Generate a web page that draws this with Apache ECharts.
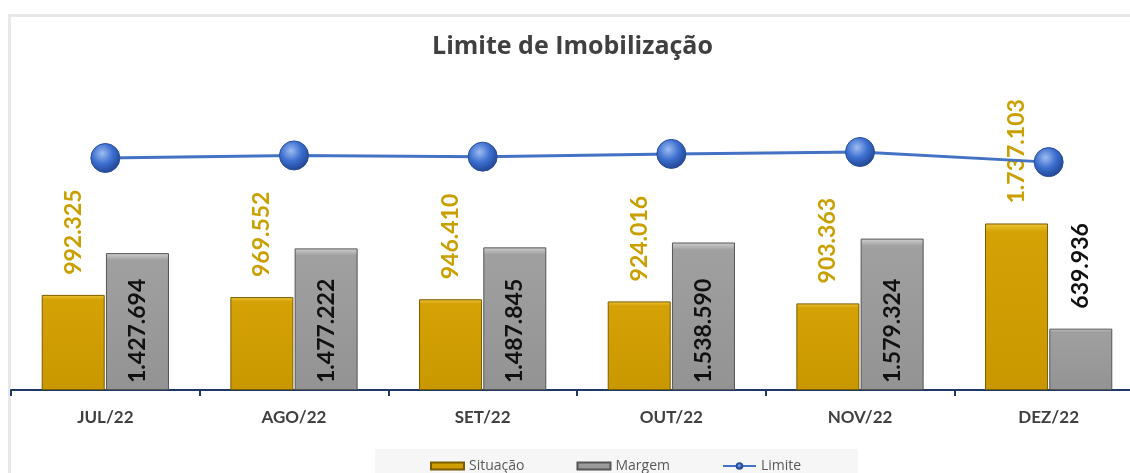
<!DOCTYPE html>
<html>
<head>
<meta charset="utf-8">
<script src="https://cdn.jsdelivr.net/npm/echarts@6/dist/echarts.min.js"></script>
<style>
  html, body { margin: 0; padding: 0; background: #fff; overflow: hidden; }
  #char { width: 1145px; height: 473px; }
</style>
</head>
<body>
<div id="char"></div>
<script>
var meses = ['JUL/22', 'AGO/22', 'SET/22', 'OUT/22', 'NOV/22', 'DEZ/22'];
var situacao = [992325, 969552, 946410, 924016, 903363, 1737103];
var margem = [1427694, 1477222, 1487845, 1538590, 1579324, 639936];
var limite = [2420019, 2446774, 2434255, 2462606, 2482687, 2377039];

function fmt(v) {
  // separador de milhar com ponto
  return String(v).replace(/\B(?=(\d{3})+(?!\d))/g, '.');
}

var fonte = 'Lato, "DejaVu Sans", sans-serif';

var margemData = margem.map(function (v, i) {
  // barra curta: rótulo fica por cima
  if (v < 800000) {
    return { value: v, label: { position: 'top', distance: 20, color: '#111' } };
  }
  return v;
});

var myChart = echarts.init(document.getElementById('char'));
var option = {
  backgroundColor: '#fff',
  animation: false,
  title: {
    text: 'Limite de Imobilização',
    left: 'center',
    top: 29,
    textStyle: { fontFamily: '"Open Sans", sans-serif', fontSize: 25, fontWeight: 'bold', color: '#404040' }
  },
  graphic: [
    { type: 'rect', shape: { x: 8, y: 14, width: 1140, height: 3 }, style: { fill: '#e8e8e8' }, silent: true },
    { type: 'rect', shape: { x: 8, y: 14, width: 3, height: 459 }, style: { fill: '#e8e8e8' }, silent: true },
    { type: 'rect', shape: { x: 375, y: 449, width: 483, height: 24 }, style: { fill: '#f6f6f6' }, silent: true, z: -1 }
  ],
  legend: {
    top: 454,
    left: 425,
    itemGap: 52,
    itemWidth: 33,
    itemHeight: 7,
    textStyle: { fontFamily: '"Open Sans", sans-serif', fontSize: 14, color: '#595959' },
    data: [
      { name: 'Situação', icon: 'rect' },
      { name: 'Margem', icon: 'rect' },
      { name: 'Limite' }
    ]
  },
  grid: { left: 11, top: 70, right: 2, height: 320 },
  xAxis: {
    type: 'category',
    data: meses,
    axisLine: { lineStyle: { color: '#1f3864', width: 2 } },
    axisTick: { show: true, length: 6, lineStyle: { color: '#1f3864', width: 2 } },
    axisLabel: { fontFamily: fonte, fontSize: 17, fontWeight: 'bold', color: '#404040', margin: 19 }
  },
  yAxis: {
    type: 'value',
    min: 0,
    max: 3338000,
    show: false,
    splitLine: { show: false }
  },
  series: [
    {
      name: 'Situação',
      type: 'bar',
      barWidth: 63,
      barGap: '2%',
      data: situacao,
      itemStyle: {
        color: new echarts.graphic.LinearGradient(0, 0, 0, 1, [
          { offset: 0, color: '#edc53a' },
          { offset: 0.05, color: '#d4a205' },
          { offset: 1, color: '#c99800' }
        ]),
        borderColor: '#7a5c00',
        borderWidth: 1
      },
      label: {
        show: true,
        position: 'top',
        distance: 20,
        rotate: 90,
        align: 'left',
        verticalAlign: 'middle',
        fontFamily: fonte,
        fontSize: 23,
        fontWeight: 'bold',
        color: '#c9a000',
        formatter: function (p) { return fmt(p.value); }
      }
    },
    {
      name: 'Margem',
      type: 'bar',
      barWidth: 63,
      data: margemData,
      itemStyle: {
        color: new echarts.graphic.LinearGradient(0, 0, 0, 1, [
          { offset: 0, color: '#d0d0d0' },
          { offset: 0.05, color: '#a0a0a0' },
          { offset: 1, color: '#939393' }
        ]),
        borderColor: '#555',
        borderWidth: 1
      },
      label: {
        show: true,
        position: 'insideBottom',
        distance: 7,
        rotate: 90,
        align: 'left',
        verticalAlign: 'middle',
        fontFamily: fonte,
        fontSize: 23,
        fontWeight: 'bold',
        color: '#111',
        formatter: function (p) { return fmt(p.value); }
      }
    },
    {
      name: 'Limite',
      type: 'line',
      data: limite,
      symbol: 'circle',
      symbolSize: 29,
      z: 5,
      lineStyle: { color: '#4472c4', width: 3 },
      itemStyle: {
        color: new echarts.graphic.RadialGradient(0.4, 0.35, 0.7, [
          { offset: 0, color: '#9dbcf0' },
          { offset: 0.5, color: '#3d6fd0' },
          { offset: 1, color: '#1d3f8a' }
        ]),
        borderColor: '#2a4f9a',
        borderWidth: 1
      },
      label: { show: false }
    }
  ]
};
myChart.setOption(option);
</script>
</body>
</html>
